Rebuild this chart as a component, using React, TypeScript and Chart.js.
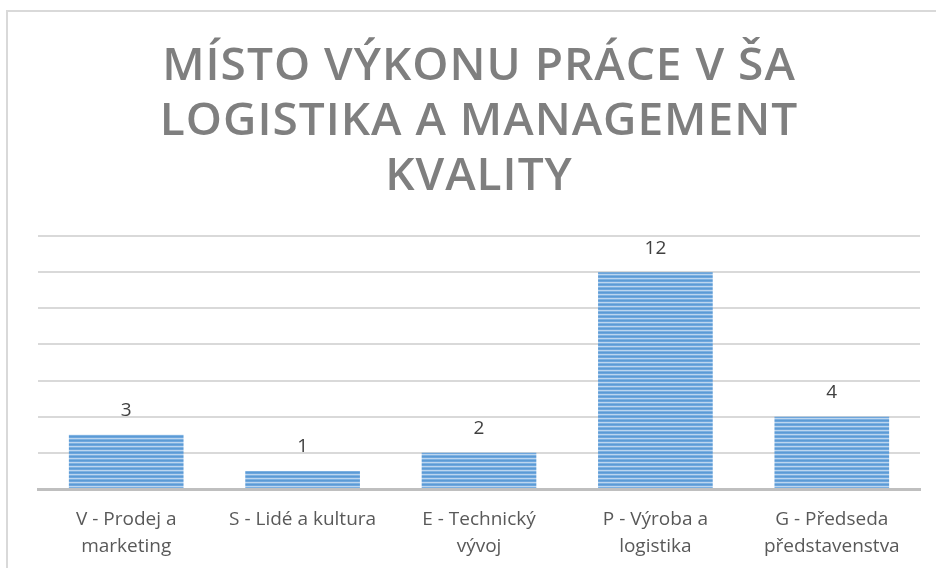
import React, { useEffect, useRef } from "react";
import { Chart, registerables } from "chart.js";

Chart.register(...registerables);

const titleLines = ["MÍSTO VÝKONU PRÁCE V ŠA", "LOGISTIKA A MANAGEMENT", "KVALITY"];
const categories = [
  ["V - Prodej a", "marketing"],
  ["S - Lidé a kultura"],
  ["E - Technický", "vývoj"],
  ["P - Výroba a", "logistika"],
  ["G - Předseda", "představenstva"],
];
const values = [3, 1, 2, 12, 4];
const yMax = 14;
const yStep = 2;

function makePattern(): CanvasPattern | string {
  const c = document.createElement("canvas");
  c.width = 4;
  c.height = 4;
  const g = c.getContext("2d");
  if (!g) return "#5b9bd5";
  const rows = ["#5b9bd5", "#6ea6dd", "#bcd6ef", "#7db0e1"];
  rows.forEach((col, i) => {
    g.fillStyle = col;
    g.fillRect(0, i, 4, 1);
  });
  const p = g.createPattern(c, "repeat");
  return p || "#5b9bd5";
}

const titlePlugin = {
  id: "customTitle",
  afterDraw(chart: any) {
    const ctx = chart.ctx;
    ctx.save();
    ctx.font = "600 46px 'Open Sans'";
    ctx.fillStyle = "#7f7f7f";
    ctx.textAlign = "center";
    ctx.textBaseline = "alphabetic";
    try { (ctx as any).letterSpacing = "1px"; } catch (e) {}
    const cx = 479;
    const baselines = [80, 135, 190];
    titleLines.forEach((t, i) => ctx.fillText(t, cx, baselines[i]));
    ctx.restore();
  },
};

const valueLabelPlugin = {
  id: "valueLabels",
  afterDatasetsDraw(chart: any) {
    const ctx = chart.ctx;
    const meta = chart.getDatasetMeta(0);
    ctx.save();
    ctx.font = "19px 'Open Sans'";
    ctx.fillStyle = "#404040";
    ctx.textAlign = "center";
    ctx.textBaseline = "middle";
    meta.data.forEach((bar: any, i: number) => {
      ctx.fillText(String(values[i]), bar.x, bar.y - 24);
    });
    ctx.restore();
  },
};

export default function App() {
  const ref = useRef<HTMLCanvasElement | null>(null);
  useEffect(() => {
    if (!ref.current) return;
    const chart = new Chart(ref.current, {
      type: "bar",
      data: {
        labels: categories,
        datasets: [
          {
            data: values,
            backgroundColor: makePattern() as any,
            borderWidth: 0,
            categoryPercentage: 1,
            barPercentage: 0.65,
          },
        ],
      },
      options: {
        animation: false,
        responsive: false,
        maintainAspectRatio: false,
        layout: { padding: { top: 236, left: 38, right: 16, bottom: 0 } },
        plugins: {
          legend: { display: false },
          title: { display: false },
          tooltip: { enabled: false },
        },
        scales: {
          x: {
            grid: { display: false, drawTicks: false },
            border: { display: true, color: "#bfbfbf", width: 3 },
            ticks: {
              color: "#595959",
              font: { family: "'Open Sans'", size: 19, lineHeight: 1.42 },
              padding: 17,
              maxRotation: 0,
              autoSkip: false,
            },
            afterFit: (s: any) => { s.height = 79; },
          },
          y: {
            min: 0,
            max: yMax,
            ticks: { display: false, stepSize: yStep },
            grid: { color: "#d9d9d9", lineWidth: 2, drawTicks: false },
            border: { display: false },
            afterFit: (s: any) => { s.width = 0; },
          },
        },
      },
      plugins: [titlePlugin, valueLabelPlugin],
    });
    return () => chart.destroy();
  }, []);
  return (
    <div style={{ position: "fixed", left: 0, top: 0, width: 936, height: 568, background: "#fff", overflow: "hidden" }}>
      <div style={{ position: "absolute", left: 6, top: 10, width: 960, height: 600, borderTop: "2px solid #d9d9d9", borderLeft: "2px solid #d9d9d9" }} />
      <canvas ref={ref} width={936} height={568} style={{ position: "absolute", left: 0, top: 0 }} />
    </div>
  );
}
